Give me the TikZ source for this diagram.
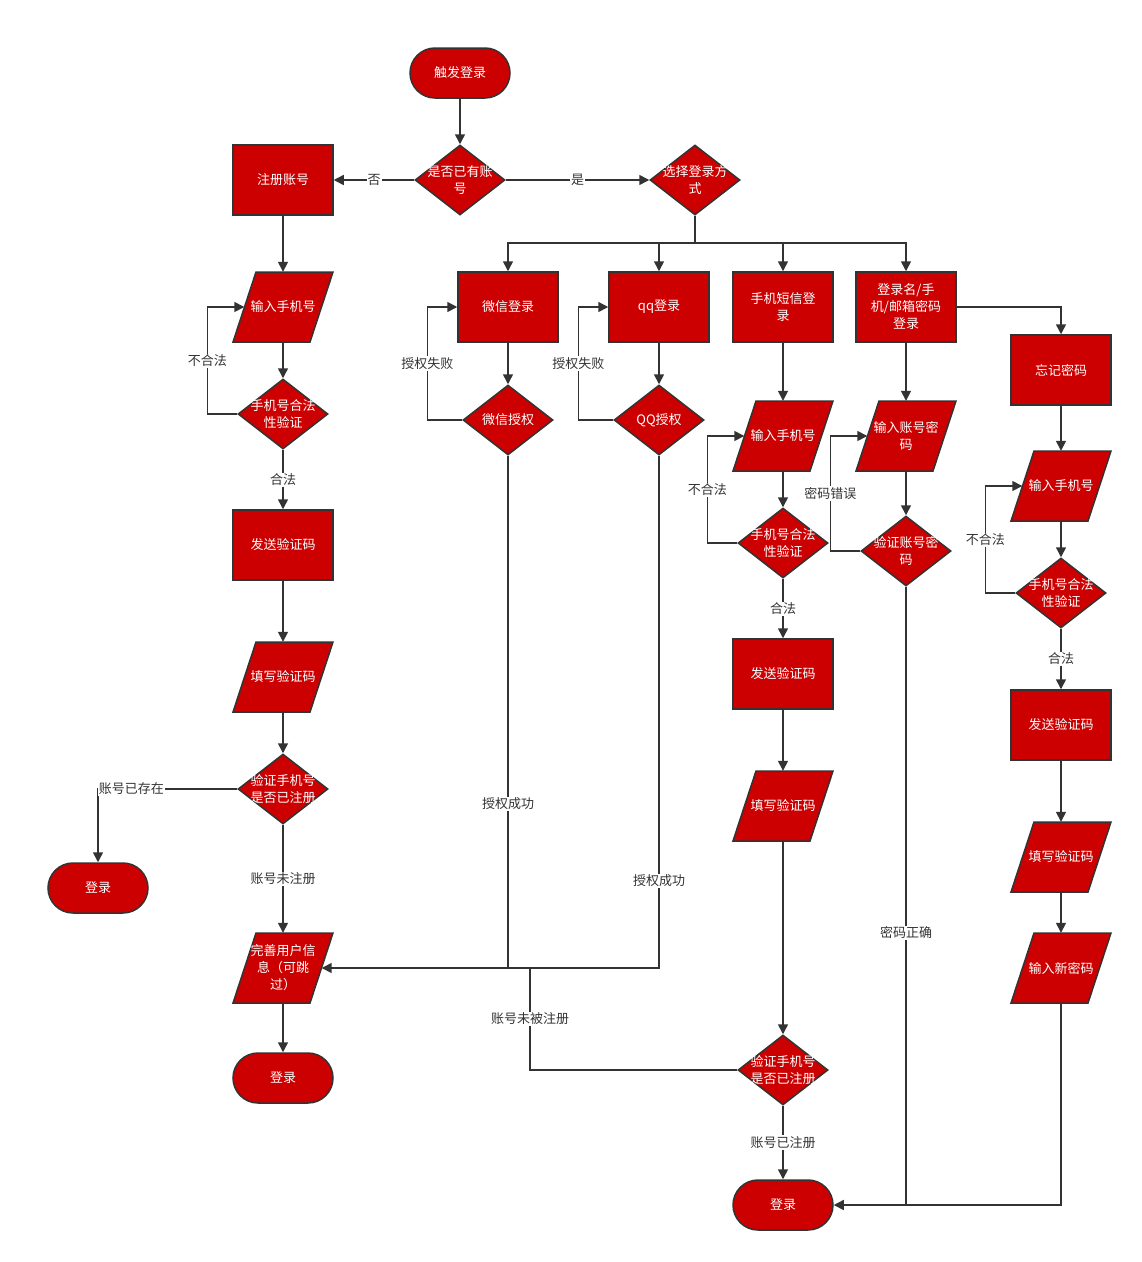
\documentclass[tikz,border=0pt]{standalone}
\usepackage{fontspec}
\setmainfont{Noto Sans CJK SC}
\usetikzlibrary{shapes.geometric,arrows.meta}
\definecolor{boxred}{HTML}{CC0000}
\definecolor{edge}{HTML}{333333}
\pgfdeclarelayer{bg}
\pgfsetlayers{bg,main}
\begin{document}
\begin{tikzpicture}[x=1pt,y=-1pt,
  shapeline/.style={draw=edge, line width=1.5pt, fill=boxred},
  base/.style={shapeline, text=white,
    font=\fontsize{13}{17}\selectfont, align=center, inner sep=1pt},
  procbox/.style={base, rectangle, minimum width=100pt, minimum height=70pt},
  termbox/.style={base, rectangle, rounded corners=25pt, minimum width=100pt, minimum height=50pt},
  % data boxes: the node is the parallelogram's mid-band, the outline is drawn on the bg layer
  iobox/.style={rectangle, text=white, font=\fontsize{13}{17}\selectfont, align=center,
    inner sep=1pt, minimum width=77pt, minimum height=70pt},
  decbox/.style={base, diamond, minimum width=90pt, minimum height=70pt, inner sep=0pt},
  dtext/.style={text=white, font=\fontsize{13}{17}\selectfont, align=center},
  flow/.style={draw=edge, line width=1.5pt, -{Triangle[length=10pt,width=10pt]}},
  link/.style={draw=edge, line width=1.5pt},
  lbl/.style={fill=white, text=edge, font=\fontsize{13}{17}\selectfont, inner sep=1pt},
]
\begin{pgfonlayer}{bg}
  \fill[white] (0,0) rectangle (1142,1262);
\end{pgfonlayer}
\useasboundingbox (0,0) rectangle (1142,1262);

% ---- top
\node[termbox] (start) at (460,73) {触发登录};
\node[decbox, label={[dtext]center:{是否已有账\\号}}] (hasAcc) at (460,180) {};
\node[procbox] (reg) at (283,180) {注册账号};
\node[decbox, label={[dtext]center:{选择登录方\\式}}] (choose) at (695,180) {};

% ---- registration column
\node[iobox] (inA) at (283,307) {输入手机号};
\node[decbox, label={[dtext]center:{手机号合法\\性验证}}] (chkA) at (283,414) {};
\node[procbox] (sendA) at (283,545) {发送验证码};
\node[iobox] (fillA) at (283,677) {填写验证码};
\node[decbox, label={[dtext]center:{验证手机号\\是否已注册}}] (regChkA) at (283,789) {};
\node[termbox] (loginExist) at (98,888) {登录};
\node[iobox] (info) at (283,968) {完善用户信\\息（可跳\\过）};
\node[termbox] (loginA) at (283,1078) {登录};

% ---- login methods
\node[procbox] (wx) at (508,307) {微信登录};
\node[procbox] (qq) at (659,307) {qq登录};
\node[procbox] (sms) at (783,307) {手机短信登\\录};
\node[procbox] (pwd) at (906,307) {登录名/手\\机/邮箱密码\\登录};
\node[decbox, label={[dtext]center:微信授权}] (wxAuth) at (508,420) {};
\node[decbox, label={[dtext]center:QQ授权}] (qqAuth) at (659,420) {};

% ---- sms column
\node[iobox] (inB) at (783,436) {输入手机号};
\node[decbox, label={[dtext]center:{手机号合法\\性验证}}] (chkB) at (783,543) {};
\node[procbox] (sendB) at (783,674) {发送验证码};
\node[iobox] (fillB) at (783,806) {填写验证码};
\node[decbox, label={[dtext]center:{验证手机号\\是否已注册}}] (regChkB) at (783,1070) {};
\node[termbox] (loginB) at (783,1205) {登录};

% ---- password column
\node[iobox] (inC) at (906,436) {输入账号密\\码};
\node[decbox, label={[dtext]center:{验证账号密\\码}}] (chkC) at (906,551) {};

% ---- forgotten password column
\node[procbox] (forgot) at (1061,370) {忘记密码};
\node[iobox] (inD) at (1061,486) {输入手机号};
\node[decbox, label={[dtext]center:{手机号合法\\性验证}}] (chkD) at (1061,593) {};
\node[procbox] (sendD) at (1061,725) {发送验证码};
\node[iobox] (fillD) at (1061,857) {填写验证码};
\node[iobox] (newPwd) at (1061,968) {输入新密码};

% ---- parallelogram outlines behind the data boxes
\begin{pgfonlayer}{bg}
\foreach \n in {inA,fillA,info,inB,fillB,inC,inD,fillD,newPwd}
  \draw[shapeline, line join=miter]
    ([xshift=-50pt,yshift=-35pt]\n.center) -- ([xshift=27pt,yshift=-35pt]\n.center)
    -- ([xshift=50pt,yshift=35pt]\n.center) -- ([xshift=-27pt,yshift=35pt]\n.center) -- cycle;
\end{pgfonlayer}

% ---- junction points
\coordinate (bus) at (695,243);
\coordinate (jwx) at (508,968);
\coordinate (jsms) at (530,968);
\coordinate (jend) at (906,1205);

% ---- connectors: top
\draw[flow] (start) -- (hasAcc);
\draw[flow] (hasAcc) -- node[lbl]{否} (reg);
\draw[flow] (hasAcc) -- node[lbl]{是} (choose);
\draw[link] (choose.south) -- (bus);
\draw[flow] (bus) -| (wx.north);
\draw[flow] (bus) -| (qq.north);
\draw[flow] (bus) -| (sms.north);
\draw[flow] (bus) -| (pwd.north);

% ---- connectors: registration
\draw[flow] (reg) -- (inA);
\draw[flow] (inA) -- (chkA);
\draw[flow] (chkA.west) -- ++(-30,0) |- node[pos=.25,lbl]{不合法} (inA.west);
\draw[flow] (chkA) -- node[lbl]{合法} (sendA);
\draw[flow] (sendA) -- (fillA);
\draw[flow] (fillA) -- (regChkA);
\draw[flow] (regChkA.west) -| node[pos=.38,lbl]{账号已存在} (loginExist.north);
\draw[flow] (regChkA) -- node[lbl]{账号未注册} (info);
\draw[flow] (info) -- (loginA);

% ---- connectors: third-party login
\draw[flow] (wx) -- (wxAuth);
\draw[flow] (wxAuth.west) -- ++(-35,0) |- node[pos=.25,lbl]{授权失败} (wx.west);
\draw[flow] (qq) -- (qqAuth);
\draw[flow] (qqAuth.west) -- ++(-35,0) |- node[pos=.25,lbl]{授权失败} (qq.west);
\draw[link] (wxAuth.south) -- node[pos=.68,lbl]{授权成功} (jwx);
\draw[flow] (qqAuth.south) |- node[pos=.415,lbl]{授权成功} (info.east);

% ---- connectors: sms login
\draw[flow] (sms) -- (inB);
\draw[flow] (inB) -- (chkB);
\draw[flow] (chkB.west) -- ++(-30,0) |- node[pos=.25,lbl]{不合法} (inB.west);
\draw[flow] (chkB) -- node[lbl]{合法} (sendB);
\draw[flow] (sendB) -- (fillB);
\draw[flow] (fillB) -- (regChkB);
\draw[link] (regChkB.west) -| node[pos=.75,lbl]{账号未被注册} (jsms);
\draw[flow] (regChkB) -- node[lbl]{账号已注册} (loginB);

% ---- connectors: password login
\draw[flow] (pwd) -- (inC);
\draw[flow] (inC) -- (chkC);
\draw[flow] (chkC.west) -- ++(-30,0) |- node[pos=.25,lbl]{密码错误} (inC.west);
\draw[flow] (chkC.south) |- node[pos=.28,lbl]{密码正确} (loginB.east);

% ---- connectors: forgotten password
\draw[flow] (pwd.east) -| (forgot.north);
\draw[flow] (forgot) -- (inD);
\draw[flow] (inD) -- (chkD);
\draw[flow] (chkD.west) -- ++(-30,0) |- node[pos=.25,lbl]{不合法} (inD.west);
\draw[flow] (chkD) -- node[lbl]{合法} (sendD);
\draw[flow] (sendD) -- (fillD);
\draw[flow] (fillD) -- (newPwd);
\draw[link] (newPwd.south) |- (jend);
\end{tikzpicture}
\end{document}
